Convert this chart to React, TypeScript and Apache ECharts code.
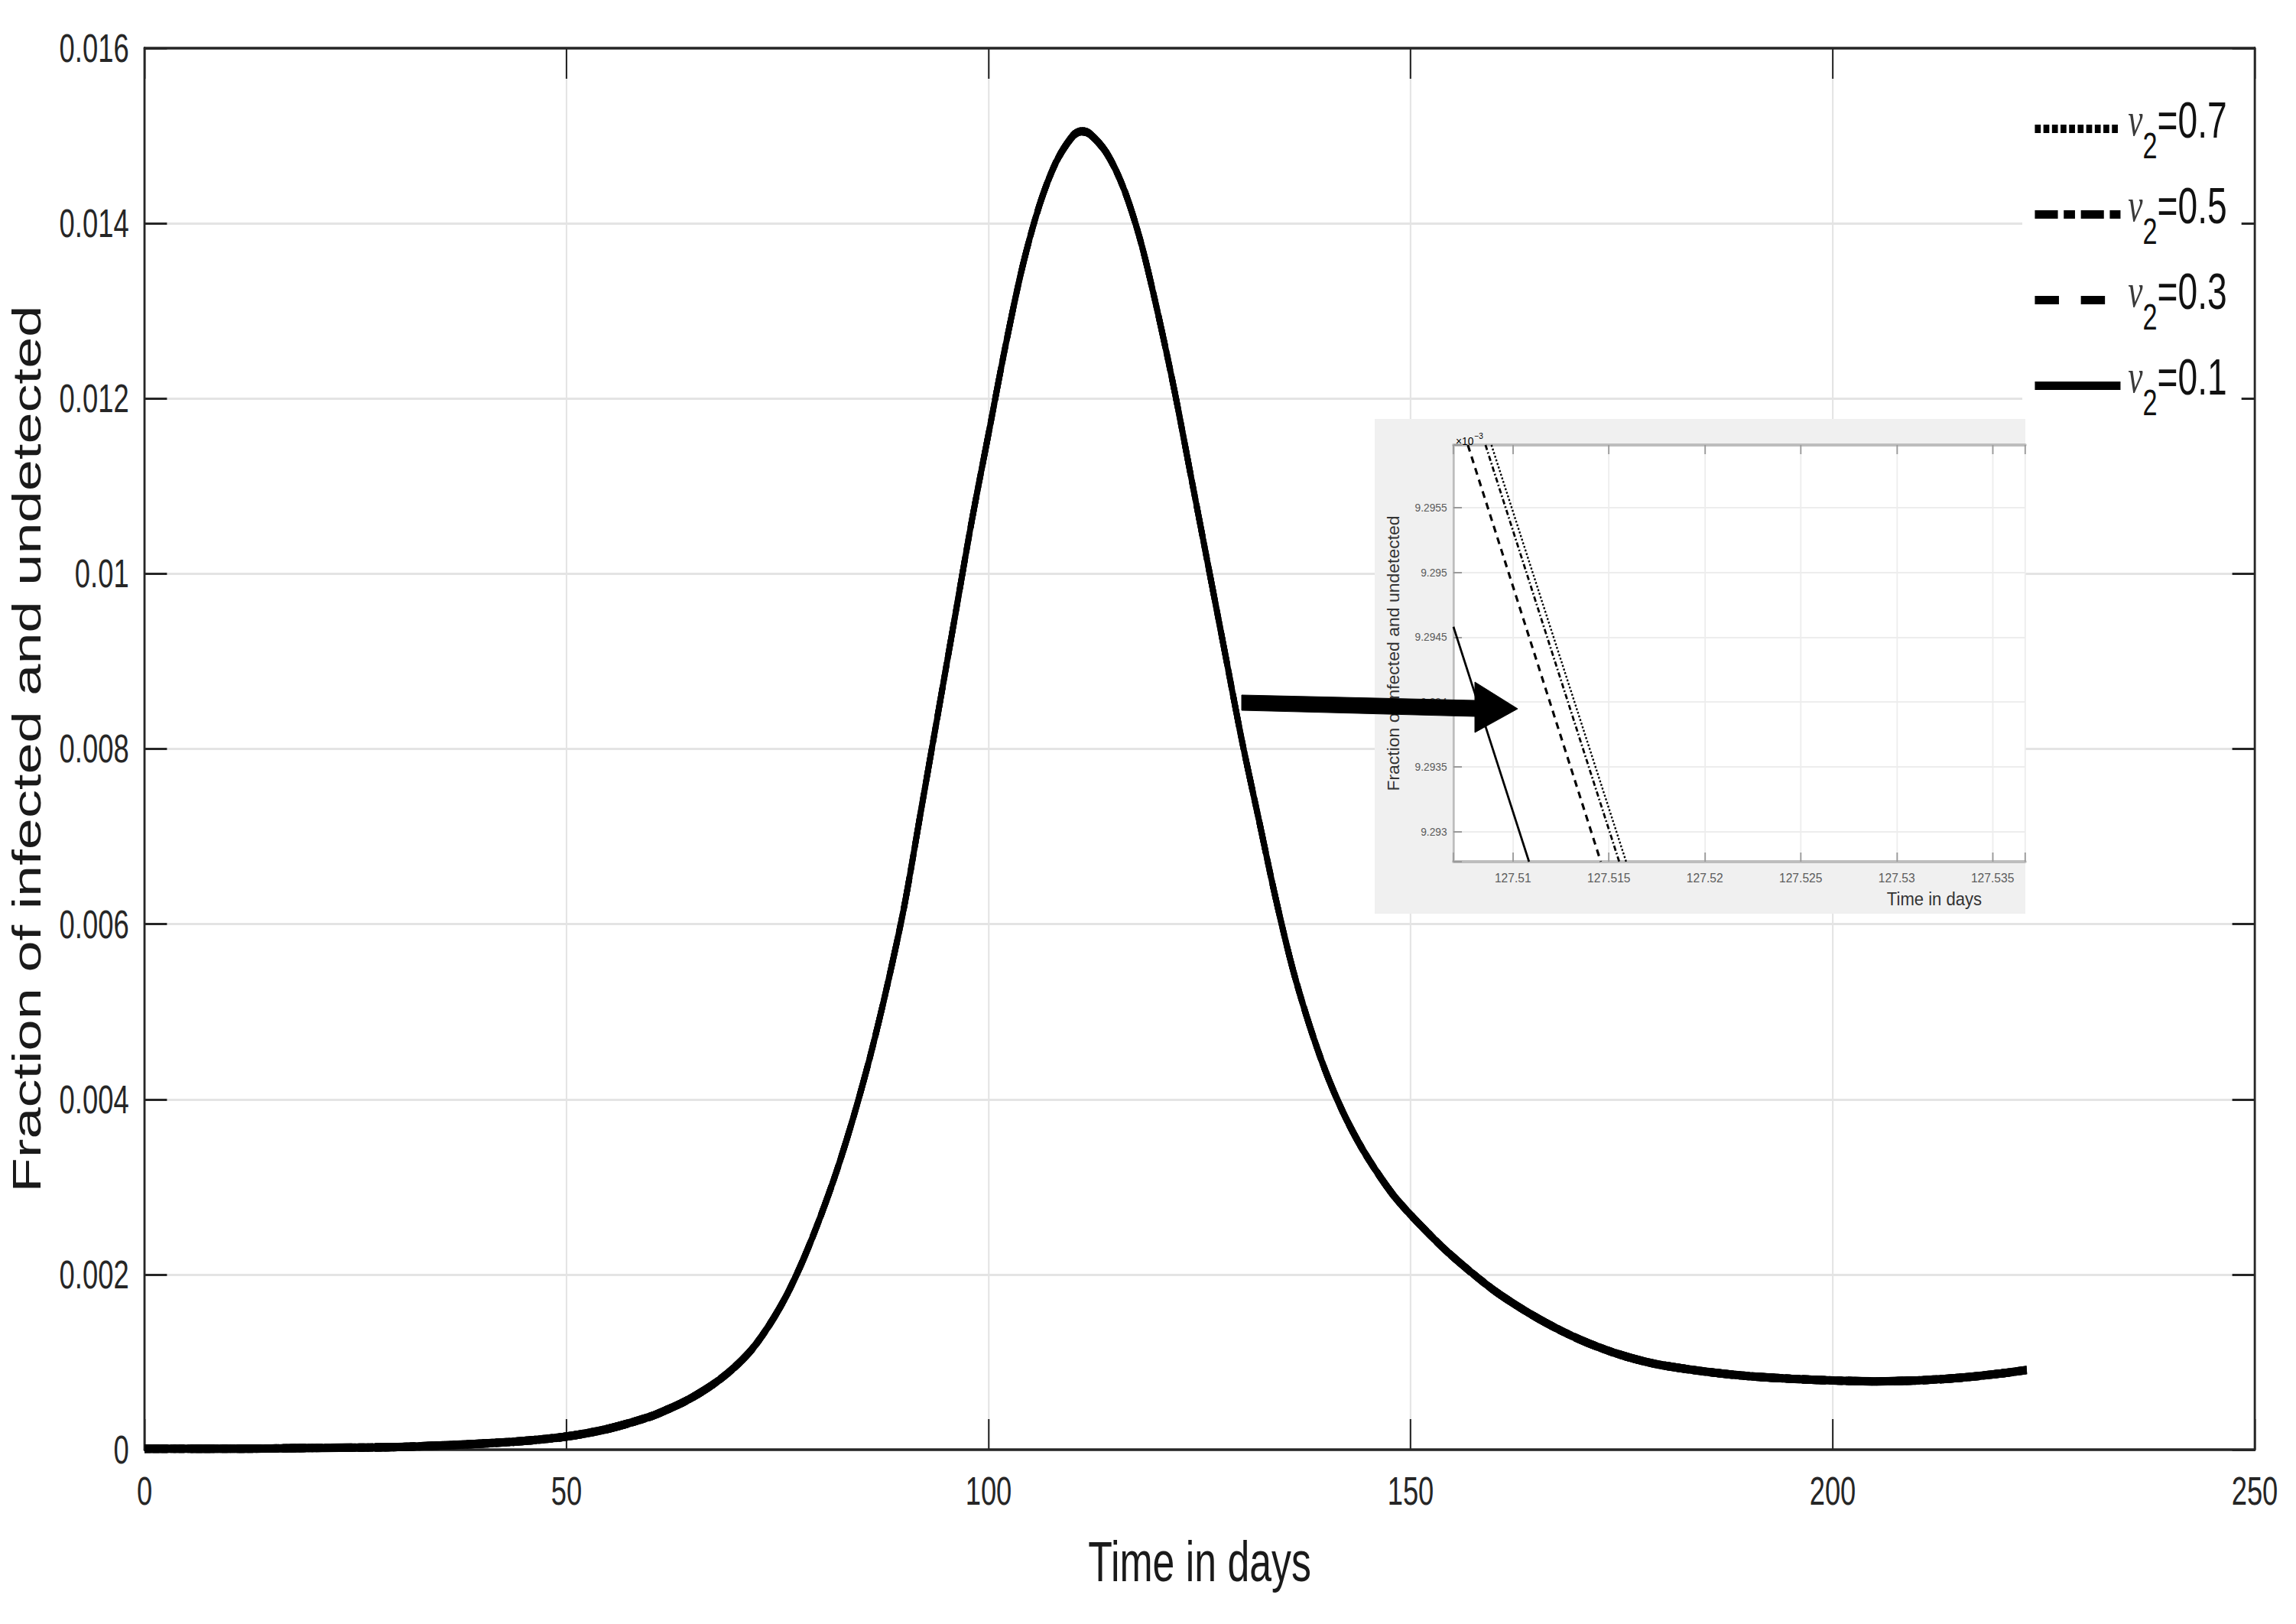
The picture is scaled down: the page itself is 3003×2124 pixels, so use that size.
import React, { useEffect, useRef } from "react";
import * as echarts from "echarts";

// ---------------- main chart data ----------------
const days = [0, 10, 20, 30, 40, 45, 50, 55, 60, 62, 64, 66, 68, 70, 72, 74, 76, 78, 80, 82, 84, 86, 88, 90, 92, 94, 96, 98, 100, 102, 104, 106, 108, 110, 111, 112, 114, 116, 118, 120, 122, 124, 126, 128, 130, 132, 134, 136, 138, 140, 142, 144, 146, 148, 150, 152, 154, 156, 158, 160, 162, 164, 166, 168, 170, 172, 174, 176, 178, 180, 185, 190, 195, 200, 205, 210, 215, 220, 223];
const fraction = [0.00001, 0.00001, 0.00002, 0.00003, 0.00007, 0.0001, 0.00015, 0.00024, 0.00038, 0.00046, 0.00055, 0.00066, 0.00079, 0.00095, 0.00115, 0.00142, 0.00175, 0.00216, 0.00264, 0.00318, 0.0038, 0.0045, 0.0053, 0.0062, 0.0073, 0.0084, 0.0095, 0.0106, 0.0116, 0.0126, 0.0135, 0.0142, 0.0147, 0.015, 0.01505, 0.01502, 0.0148, 0.0144, 0.0138, 0.013, 0.0121, 0.0111, 0.0101, 0.0091, 0.0081, 0.0072, 0.0063, 0.0055, 0.00485, 0.0043, 0.00385, 0.00348, 0.00317, 0.0029, 0.00268, 0.00248, 0.00229, 0.00212, 0.00196, 0.00181, 0.00168, 0.00156, 0.00145, 0.00135, 0.00126, 0.00118, 0.00111, 0.00105, 0.001, 0.00096, 0.00089, 0.00084, 0.00081, 0.00079, 0.00078, 0.00079, 0.00082, 0.00087, 0.00091];
const nuValues = ["0.7", "0.5", "0.3", "0.1"];
const xRange = [0, 250];
const xStep = 50;
const yRange = [0, 0.016];
const yStep = 0.002;

// ---------------- inset (zoom) data, y in units of 1e-3 ----------------
const insetDotted = [[127.50888, 9.29598], [127.5159, 9.29277]]; // nu2 = 0.7
const insetDashDot = [[127.50857, 9.29598], [127.51554, 9.29277]]; // nu2 = 0.5
const insetDashed = [[127.50765, 9.29598], [127.51458, 9.29277]]; // nu2 = 0.3
const insetSolid = [[127.5069, 9.29458], [127.51084, 9.29277]]; // nu2 = 0.1
const insetXRange = [127.5069, 127.5367];
const insetYRange = [9.29277, 9.29598];

const FONT = "'Liberation Sans', Arial, Helvetica, sans-serif";
const SERIF = "'Liberation Serif', 'Times New Roman', serif";

const W = 3003;
const H = 2124;
const S1 = 0.7; // horizontal squeeze of the main figure
const MAIN_W = W / S1;
const fx = (x: number) => x / S1;

// inset placement (page px)
const S2 = 0.92;
const IL = 1600;
const IT = 540;
const IW = 1060;
const IH = 660;
const INSET_W = IW / S2;
const ix = (x: number) => (x - IL) / S2;
const iy = (y: number) => y - IT;

const mainDash: any[] = [[11, 5], [43, 11, 21, 11], [45, 41], "solid"];
const insetDash: any[] = [[2.5, 2.5], [7, 3, 2, 3], [9, 7], "solid"];
const insetWidths = [2.6, 3, 3.4, 3];

function seriesName(i: number) {
  return "ν2=" + nuValues[i];
}

export default function App() {
  const mainRef = useRef<HTMLDivElement>(null);
  const insetRef = useRef<HTMLDivElement>(null);

  useEffect(() => {
    if (!mainRef.current || !insetRef.current) return;
    const main = echarts.init(mainRef.current, undefined, { renderer: "svg" });
    const inset = echarts.init(insetRef.current, undefined, { renderer: "svg" });

    const curve = days.map((d, i) => [d, fraction[i]]);
    const dark = "#262626";

    const xCommon = {
      type: "value",
      min: xRange[0],
      max: xRange[1],
      interval: xStep,
    };
    const yCommon = {
      type: "value",
      min: yRange[0],
      max: yRange[1],
      interval: yStep,
    };

    main.setOption({
      animation: false,
      color: ["#000", "#000", "#000", "#000"],
      grid: {
        left: fx(189),
        right: MAIN_W - fx(2949),
        top: 63,
        bottom: H - 1896,
        containLabel: false,
      },
      xAxis: [
        {
          ...xCommon,
          position: "bottom",
          name: "Time in days",
          nameLocation: "middle",
          nameGap: 110,
          nameTextStyle: { fontSize: 74, color: "#1a1a1a", fontFamily: FONT },
          axisLine: { show: true, onZero: false, lineStyle: { color: dark, width: 3.5 } },
          axisTick: { show: true, inside: true, length: 40, lineStyle: { color: dark, width: 3 } },
          axisLabel: { fontSize: 52, color: dark, margin: 28, fontFamily: FONT },
          splitLine: { show: true, lineStyle: { color: "#e4e4e4", width: 3 } },
        },
        {
          ...xCommon,
          position: "top",
          axisLine: { show: true, onZero: false, lineStyle: { color: dark, width: 3.5 } },
          axisTick: { show: true, inside: true, length: 40, lineStyle: { color: dark, width: 3 } },
          axisLabel: { show: false },
          splitLine: { show: false },
        },
      ],
      yAxis: [
        {
          ...yCommon,
          position: "left",
          name: "Fraction of infected and undetected",
          nameLocation: "middle",
          nameGap: 183,
          nameTextStyle: { fontSize: 74, color: "#1a1a1a", fontFamily: FONT },
          axisLine: { show: true, onZero: false, lineStyle: { color: dark, width: 4 } },
          axisTick: { show: true, inside: true, length: 42, lineStyle: { color: dark, width: 3 } },
          axisLabel: { fontSize: 52, color: dark, margin: 29, fontFamily: FONT },
          splitLine: { show: true, lineStyle: { color: "#e4e4e4", width: 3 } },
        },
        {
          ...yCommon,
          position: "right",
          axisLine: { show: true, onZero: false, lineStyle: { color: dark, width: 4 } },
          axisTick: { show: true, inside: true, length: 42, lineStyle: { color: dark, width: 3 } },
          axisLabel: { show: false },
          splitLine: { show: false },
        },
      ],
      legend: {
        orient: "vertical",
        left: fx(2645),
        top: 103.5,
        itemWidth: fx(2770) - fx(2658),
        itemHeight: 20,
        itemGap: 20.5,
        padding: [20, 27, 20, 18],
        backgroundColor: "#ffffff",
        selectedMode: false,
        data: nuValues.map((_, i) => seriesName(i)),
        lineStyle: { width: 11 },
        itemStyle: { opacity: 0, color: "rgba(0,0,0,0)", borderWidth: 0 },
        formatter: (name: string) => {
          const v = name.split("=")[1];
          return "{nu|ν}{sub|2}{eq|=" + v + "}";
        },
        textStyle: {
          fontFamily: FONT,
          fontSize: 66,
          color: "#111",
          rich: {
            nu: { fontFamily: SERIF, fontStyle: "italic", fontSize: 62, color: "#3a3a3a", padding: [0, 0, 24, 9] },
            sub: { fontFamily: FONT, fontSize: 49, color: "#111", padding: [44, 0, 0, 0] },
            eq: { fontFamily: FONT, fontSize: 66, color: "#111", padding: [0, 0, 24, 0] },
          },
        },
      },
      series: nuValues.map((_, i) => ({
        name: seriesName(i),
        type: "line",
        data: curve,
        xAxisIndex: 0,
        yAxisIndex: 0,
        symbol: "none",
        showSymbol: false,
        smooth: 0.3,
        clip: false,
        itemStyle: { color: "#000" },
        lineStyle: { color: "#000", width: 11, type: mainDash[i] },
        z: 3 + i,
      })),
    });

    const gridLeft = ix(1901);
    const gridRight = INSET_W - ix(2649);
    const gridTop = iy(582);
    const gridBottom = IH - iy(1127);
    const grayAxis = "#bdbdbd";
    const tickCol = "#9a9a9a";
    const labelCol = "#5c5c5c";

    const fmtX = (v: number) => {
      const k = Math.round(v / 0.005);
      if (Math.abs(v - k * 0.005) > 1e-7) return "";
      return (k * 0.005).toFixed(3).replace(/0+$/, "").replace(/\.$/, "");
    };
    const fmtY = (v: number) => {
      const k = Math.round(v / 0.0005);
      if (Math.abs(v - k * 0.0005) > 1e-8) return "";
      return (k * 0.0005).toFixed(4).replace(/0+$/, "").replace(/\.$/, "");
    };

    const insetSets = [insetDotted, insetDashDot, insetDashed, insetSolid];
    const arrowFull = [
      [1624, 909],
      [1929, 916],
      [1929, 892],
      [1985, 927],
      [1929, 958],
      [1929, 937],
      [1624, 929],
    ];

    inset.setOption({
      animation: false,
      grid: {
        left: gridLeft,
        right: gridRight,
        top: gridTop,
        bottom: gridBottom,
        show: true,
        backgroundColor: "#ffffff",
        borderWidth: 0,
        containLabel: false,
      },
      xAxis: [
        {
          type: "value",
          min: insetXRange[0],
          max: insetXRange[1],
          splitNumber: 6,
          position: "bottom",
          axisLine: { show: true, onZero: false, lineStyle: { color: grayAxis, width: 4 } },
          axisTick: { show: true, inside: true, length: 12, lineStyle: { color: tickCol, width: 2 } },
          axisLabel: { fontSize: 17, color: labelCol, margin: 12, fontFamily: FONT, formatter: fmtX },
          splitLine: { show: true, lineStyle: { color: "#ededed", width: 2 } },
        },
        {
          type: "value",
          min: insetXRange[0],
          max: insetXRange[1],
          splitNumber: 6,
          position: "top",
          axisLine: { show: true, onZero: false, lineStyle: { color: grayAxis, width: 4 } },
          axisTick: { show: true, inside: true, length: 12, lineStyle: { color: tickCol, width: 2 } },
          axisLabel: { show: false },
          splitLine: { show: false },
        },
      ],
      yAxis: [
        {
          type: "value",
          min: insetYRange[0],
          max: insetYRange[1],
          splitNumber: 6,
          position: "left",
          name: "Fraction of infected and undetected",
          nameLocation: "middle",
          nameGap: 73,
          nameTextStyle: { fontSize: 23, color: "#333", fontFamily: FONT },
          axisLine: { show: true, onZero: false, lineStyle: { color: grayAxis, width: 3 } },
          axisTick: { show: true, inside: true, length: 12, lineStyle: { color: tickCol, width: 2 } },
          axisLabel: { fontSize: 15, color: labelCol, margin: 9, fontFamily: FONT, formatter: fmtY },
          splitLine: { show: true, lineStyle: { color: "#ededed", width: 2 } },
        },
      ],
      graphic: [
        {
          type: "text",
          left: ix(1904),
          top: iy(564),
          z: 50,
          style: {
            text: "{a|×10}{b|−3}",
            rich: {
              a: { fontSize: 15, fontFamily: FONT, color: labelCol, padding: [7, 0, 0, 0] },
              b: { fontSize: 11, fontFamily: FONT, color: labelCol, padding: [0, 0, 7, 1] },
            },
          },
        },
        {
          type: "text",
          x: ix(2530),
          y: iy(1176),
          z: 50,
          style: {
            text: "Time in days",
            fontSize: 24,
            fontFamily: FONT,
            fill: "#333",
            align: "center",
            verticalAlign: "middle",
          },
        },
        {
          type: "polygon",
          z: 100,
          shape: { points: arrowFull.map((p) => [ix(p[0]), iy(p[1])]) },
          style: { fill: "#000", stroke: "#000", lineWidth: 1 },
        },
      ],
      series: insetSets.map((set, i) => ({
        name: seriesName(i),
        type: "line",
        data: set,
        symbol: "none",
        showSymbol: false,
        clip: true,
        lineStyle: { color: "#000", width: insetWidths[i], type: insetDash[i] },
        z: 3 + i,
      })),
    });

    return () => {
      main.dispose();
      inset.dispose();
    };
  }, []);

  return (
    <div
      style={{
        position: "fixed",
        left: 0,
        top: 0,
        width: W,
        height: H,
        overflow: "hidden",
        background: "#ffffff",
      }}
    >
      <div
        ref={mainRef}
        style={{
          position: "absolute",
          left: 0,
          top: 0,
          width: MAIN_W,
          height: H,
          transform: `scaleX(${S1})`,
          transformOrigin: "0 0",
        }}
      />
      <div
        style={{
          position: "absolute",
          left: 1798,
          top: 548,
          width: 2649 - 1798,
          height: 1195 - 548,
          background: "#f0f0f0",
        }}
      />
      <div
        ref={insetRef}
        style={{
          position: "absolute",
          left: IL,
          top: IT,
          width: INSET_W,
          height: IH,
          transform: `scaleX(${S2})`,
          transformOrigin: "0 0",
        }}
      />
    </div>
  );
}
